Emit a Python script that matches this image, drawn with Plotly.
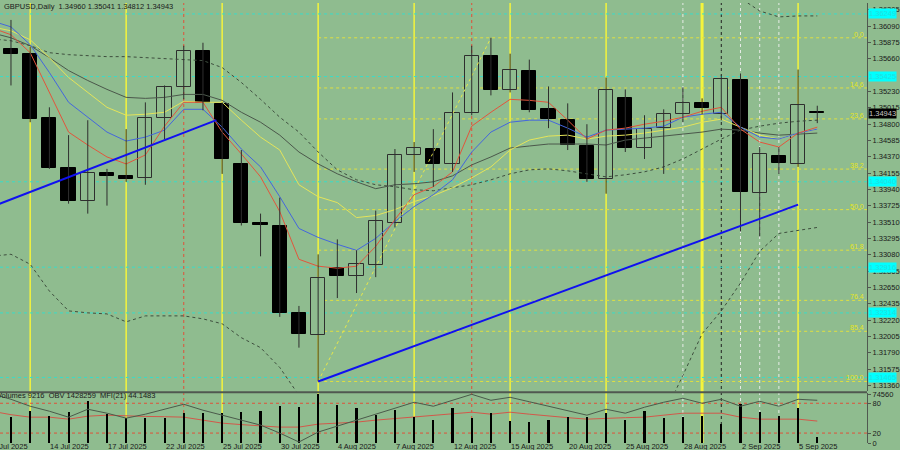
import plotly.graph_objects as go

BG = "#8FBC8F"

# ---------------- data ----------------
bar_dates = ["10 Jul 2025", "11 Jul 2025", "14 Jul 2025", "15 Jul 2025", "16 Jul 2025", "17 Jul 2025",
             "18 Jul 2025", "21 Jul 2025", "22 Jul 2025", "23 Jul 2025", "24 Jul 2025", "25 Jul 2025",
             "28 Jul 2025", "29 Jul 2025", "30 Jul 2025", "31 Jul 2025", "1 Aug 2025", "4 Aug 2025",
             "5 Aug 2025", "6 Aug 2025", "7 Aug 2025", "8 Aug 2025", "11 Aug 2025", "12 Aug 2025",
             "13 Aug 2025", "14 Aug 2025", "15 Aug 2025", "18 Aug 2025", "19 Aug 2025", "20 Aug 2025",
             "21 Aug 2025", "22 Aug 2025", "25 Aug 2025", "26 Aug 2025", "27 Aug 2025", "28 Aug 2025",
             "29 Aug 2025", "1 Sep 2025", "2 Sep 2025", "3 Sep 2025", "4 Sep 2025", "5 Sep 2025",
             "8 Sep 2025"]
indicator_dates = ["9 Jul 2025"] + bar_dates

opens = [1.35791, 1.35726, 1.34876, 1.34223, 1.33791, 1.34157, 1.34118, 1.34092, 1.34876, 1.35282,
         1.35765, 1.35059, 1.34275, 1.33504, 1.33452, 1.32314, 1.32027, 1.32902, 1.32798, 1.32942,
         1.33504, 1.34393, 1.34471, 1.34275, 1.34942, 1.35700, 1.35242, 1.35504, 1.34994, 1.34850,
         1.34510, 1.34079, 1.35138, 1.34484, 1.34746, 1.34929, 1.35072, 1.34929, 1.35386, 1.33896,
         1.34380, 1.34275, 1.34960]
highs = [1.36170, 1.35818, 1.35020, 1.34654, 1.34850, 1.34210, 1.34733, 1.35085, 1.35308, 1.35831,
         1.35870, 1.35085, 1.34458, 1.33621, 1.33831, 1.32406, 1.33085, 1.33282, 1.33138, 1.33661,
         1.34471, 1.34563, 1.34733, 1.35216, 1.35831, 1.35935, 1.35726, 1.35648, 1.35295, 1.35072,
         1.34798, 1.35412, 1.35255, 1.34916, 1.34994, 1.35282, 1.35138, 1.35438, 1.35465, 1.34497,
         1.34497, 1.35517, 1.35041]
lows = [1.35308, 1.34824, 1.34210, 1.33752, 1.33621, 1.33726, 1.34040, 1.34001, 1.34602, 1.35125,
        1.34981, 1.34144, 1.33465, 1.33059, 1.32262, 1.31857, 1.31412, 1.32510, 1.32576, 1.32785,
        1.33439, 1.34170, 1.33974, 1.34170, 1.34916, 1.35177, 1.35216, 1.34955, 1.34746, 1.34458,
        1.34040, 1.33883, 1.34432, 1.34340, 1.34144, 1.34824, 1.34929, 1.34850, 1.33386, 1.33321,
        1.34144, 1.34236, 1.34812]
closes = [1.35726, 1.34863, 1.34223, 1.33791, 1.34157, 1.34118, 1.34079, 1.34876, 1.35282, 1.35765,
          1.35072, 1.34340, 1.33504, 1.33465, 1.32314, 1.32040, 1.32772, 1.32798, 1.32955, 1.33530,
          1.34393, 1.34484, 1.34275, 1.34942, 1.35700, 1.35242, 1.35517, 1.34981, 1.34863, 1.34523,
          1.34079, 1.35242, 1.34484, 1.34733, 1.34929, 1.35072, 1.35007, 1.35399, 1.33909, 1.34406,
          1.34288, 1.35046, 1.34943]
volumes = [39870, 49210, 41530, 47620, 64480, 44610, 38350, 38470, 38390, 46050, 46180, 46090, 47700,
           49150, 56920, 55280, 74560, 58330, 53760, 43110, 50650, 40120, 35310, 53870, 38390, 46230,
           33750, 32290, 35420, 39940, 40060, 46170, 35380, 49090, 38460, 39980, 41570, 29160, 59880,
           47710, 41460, 53850, 9216]

# indicators (start one bar earlier, 9 Jul 2025)
ma_red = [1.36066, 1.35975, 1.35739, 1.35217, 1.34694, 1.34524, 1.34367, 1.34275, 1.34393, 1.34772,
          1.35086, 1.35086, 1.34694, 1.34406, 1.34105, 1.33648, 1.33020, 1.32929, 1.32903, 1.32929,
          1.33190, 1.33543, 1.33870, 1.33975, 1.34171, 1.34772, 1.34955, 1.35125, 1.35112, 1.35086,
          1.34851, 1.34602, 1.34720, 1.34746, 1.34798, 1.34837, 1.34890, 1.34968, 1.35020, 1.34733,
          1.34563, 1.34498, 1.34681, 1.34759]
ma_blue = [1.36158, 1.36079, 1.35844, 1.35478, 1.35086, 1.34890, 1.34694, 1.34576, 1.34628, 1.34720,
           1.34994, 1.34994, 1.34759, 1.34471, 1.34236, 1.33844, 1.33426, 1.33308, 1.33217, 1.33138,
           1.33295, 1.33517, 1.33713, 1.33870, 1.34066, 1.34432, 1.34694, 1.34824, 1.34851, 1.34851,
           1.34746, 1.34628, 1.34720, 1.34733, 1.34746, 1.34772, 1.34890, 1.34929, 1.34955, 1.34759,
           1.34628, 1.34602, 1.34681, 1.34733]
ma_yellow = [1.36079, 1.36027, 1.35909, 1.35674, 1.35413, 1.35217, 1.35020, 1.34916, 1.34929, 1.34955,
             1.35099, 1.35086, 1.35086, 1.34851, 1.34628, 1.34458, 1.34001, 1.33844, 1.33766, 1.33569,
             1.33596, 1.33674, 1.33779, 1.33857, 1.33962, 1.34092, 1.34236, 1.34458, 1.34589, 1.34641,
             1.34654, 1.34602, 1.34641, 1.34654, 1.34681, 1.34720, 1.34759, 1.34824, 1.34864, 1.34759,
             1.34654, 1.34602, 1.34681, 1.34733]
ma_gray = [1.36001, 1.35935, 1.35831, 1.35674, 1.35504, 1.35373, 1.35256, 1.35151, 1.35138, 1.35151,
           1.35190, 1.35190, 1.35112, 1.34955, 1.34824, 1.34654, 1.34432, 1.34275, 1.34145, 1.34040,
           1.33949, 1.34001, 1.34014, 1.34040, 1.34118, 1.34262, 1.34367, 1.34484, 1.34511, 1.34537,
           1.34537, 1.34537, 1.34524, 1.34589, 1.34615, 1.34641, 1.34667, 1.34694, 1.34733, 1.34720,
           1.34681, 1.34654, 1.34667, 1.34681]
ma_slow = [1.35922, 1.35896, 1.35831, 1.35739, 1.35713, 1.35700, 1.35687, 1.35687, 1.35674, 1.35661,
           1.35648, 1.35635, 1.35543, 1.35347, 1.35125, 1.34890, 1.34694, 1.34432, 1.34197, 1.34066,
           1.34001, 1.33975, 1.33935, 1.33922, 1.33962, 1.34001, 1.34066, 1.34145, 1.34197, 1.34210,
           1.34184, 1.34145, 1.34105, 1.34132, 1.34171, 1.34236, 1.34341, 1.34471, 1.34602, 1.34720,
           1.34772, 1.34811, 1.34837, 1.34851]
band_upper = [1.3878, 1.3871, 1.3871, 1.3888, 1.3909, 1.3909, 1.3907, 1.3918, 1.3907, 1.3905, 1.3902,
              1.3903, 1.3892, 1.3871, 1.3839, 1.3818, 1.3816, 1.3791, 1.3757, 1.3738, 1.3728, 1.3721,
              1.3707, 1.3698, 1.3702, 1.3712, 1.3728, 1.3746, 1.3757, 1.3762, 1.3759, 1.3753, 1.3747,
              1.3754, 1.3754, 1.3750, 1.3719, 1.3690, 1.3670, 1.36458, 1.36288, 1.36210, 1.36223, 1.36223]
band_lower = [1.33060, 1.33086, 1.32955, 1.32602, 1.32341, 1.32315, 1.32301, 1.32197, 1.32275, 1.32275,
              1.32275, 1.32236, 1.32171, 1.31988, 1.31857, 1.31596, 1.31230, 1.3095, 1.3082, 1.3075,
              1.3072, 1.3074, 1.3080, 1.3086, 1.3090, 1.3088, 1.3085, 1.3083, 1.3082, 1.3080, 1.3078,
              1.3076, 1.3074, 1.3072, 1.3080, 1.30968, 1.31491, 1.32040, 1.32341, 1.32707, 1.33125,
              1.33360, 1.33400, 1.33439]
obv = [1480259, 1436259, 1380259, 1340259, 1292259, 1356259, 1324259, 1284259, 1316259, 1356259,
       1396259, 1348259, 1308259, 1268259, 1228259, 1164259, 1092259, 1172259, 1220259, 1268259,
       1316259, 1364259, 1412259, 1380259, 1428259, 1476259, 1428259, 1452259, 1416259, 1380259,
       1344259, 1308259, 1356259, 1324259, 1372259, 1412259, 1444259, 1404259, 1436259, 1380259,
       1420259, 1380259, 1436259, 1428259]
mfi = [64, 57, 52, 52, 48, 54, 56, 54, 53.5, 53, 52, 46, 40, 37, 34, 32, 32, 38, 40, 42, 46, 49, 52,
       55, 58, 62, 58, 62, 58, 54, 51, 48, 50, 51, 52, 56, 60, 60, 60, 52, 48, 48, 48, 44.1483]

axis_dates = ["9 Jul 2025", "14 Jul 2025", "17 Jul 2025", "22 Jul 2025", "25 Jul 2025", "30 Jul 2025",
              "4 Aug 2025", "7 Aug 2025", "12 Aug 2025", "15 Aug 2025", "20 Aug 2025", "25 Aug 2025",
              "28 Aug 2025", "2 Sep 2025", "5 Sep 2025"]
price_ticks = [1.31360, 1.31575, 1.31790, 1.32005, 1.32220, 1.32435, 1.32650, 1.32865, 1.33080,
               1.33295, 1.33510, 1.33725, 1.33940, 1.34155, 1.34370, 1.34585, 1.34800, 1.35015,
               1.35230, 1.35660, 1.35875, 1.36090, 1.36305]

week_end_dates = ["11 Jul 2025", "18 Jul 2025", "25 Jul 2025", "1 Aug 2025", "8 Aug 2025",
                  "15 Aug 2025", "22 Aug 2025", "29 Aug 2025", "5 Sep 2025"]
red_mark_dates = ["23 Jul 2025", "13 Aug 2025"]
white_mark_dates = ["28 Aug 2025", "2 Sep 2025", "3 Sep 2025", "4 Sep 2025"]
black_mark_dates = ["1 Sep 2025"]

cyan_levels = [1.36249, 1.35425, 1.34040, 1.32916, 1.32314, 1.31465]
fib_ratios = [0.0, 14.6, 23.6, 38.2, 50.0, 61.8, 76.4, 85.4, 100.0]
fib_low, fib_low_date = 1.31412, "1 Aug 2025"
fib_high, fib_high_date = 1.35935, "14 Aug 2025"
trend1_pos = [-2.0, 10.7]
trend1_price = [1.33613, 1.34851]
trend2_dates = ["1 Aug 2025", "5 Sep 2025"]
trend2_price = [1.31412, 1.33739]

last_price = 1.34943
header = "GBPUSD,Daily  1.34960 1.35041 1.34812 1.34943"
sub_header = "Volumes 9216  OBV 1428259  MFI(21) 44.1483"

# ---------------- helpers ----------------
pos = {d: i - 1 for i, d in enumerate(indicator_dates)}
bar_x = [pos[d] for d in bar_dates]
ind_x = [pos[d] for d in indicator_dates]
X_RANGE = [-0.572, 44.59]
MAIN_DOM = [0.1174, 1.0]
SUB_DOM = [0.0, 0.1129]
DARK = "#2E2E2E"
FONT = "Liberation Sans, Arial, sans-serif"


def to_paper_x(v):
    return (v - X_RANGE[0]) / (X_RANGE[1] - X_RANGE[0])


fig = go.Figure()


def line(y, color, dash="solid", width=1):
    fig.add_trace(go.Scatter(x=ind_x, y=y, mode="lines", line=dict(color=color, width=width, dash=dash),
                             xaxis="x2", yaxis="y", hoverinfo="skip", showlegend=False))


line(band_upper, "#3E4E3E", "dot")
line(band_lower, "#3E4E3E", "dot")
line(ma_slow, "#3E4E3E", "dot")
line(ma_gray, "#4B574B")
line(ma_yellow, "#E4E45A")
line(ma_blue, "#4466DD")
line(ma_red, "#E2553C")

# fib diagonal
fig.add_trace(go.Scatter(x=[pos[fib_low_date], pos[fib_high_date]], y=[fib_low, fib_high], mode="lines",
                         line=dict(color="#E8E84A", width=1, dash="dot"), xaxis="x2", yaxis="y",
                         hoverinfo="skip", showlegend=False))

# candle wicks
wx, wy = [], []
for x, lo, hi in zip(bar_x, lows, highs):
    wx += [x, x, None]
    wy += [lo, hi, None]
fig.add_trace(go.Scatter(x=wx, y=wy, mode="lines", line=dict(color=DARK, width=1),
                         xaxis="x2", yaxis="y", hoverinfo="skip", showlegend=False))

# candle bodies
for bull in (True, False):
    xs, base, h = [], [], []
    for x, o, c in zip(bar_x, opens, closes):
        if (c >= o) == bull:
            xs.append(x)
            base.append(min(o, c))
            h.append(abs(c - o))
    fig.add_trace(go.Bar(x=xs, y=h, base=base, width=0.74,
                         marker=dict(color=BG if bull else "#000000",
                                     line=dict(color=DARK if bull else "#000000", width=1)),
                         xaxis="x2", yaxis="y", hoverinfo="skip", showlegend=False))

# trend lines
fig.add_trace(go.Scatter(x=trend1_pos, y=trend1_price, mode="lines", line=dict(color="#1010F0", width=2),
                         xaxis="x2", yaxis="y", hoverinfo="skip", showlegend=False))
fig.add_trace(go.Scatter(x=[pos[d] for d in trend2_dates], y=trend2_price, mode="lines",
                         line=dict(color="#1010F0", width=2), xaxis="x2", yaxis="y", hoverinfo="skip",
                         showlegend=False))

# lower panel
fig.add_trace(go.Bar(x=bar_x, y=volumes, width=0.11, marker=dict(color="#000000", line=dict(width=0)),
                     xaxis="x", yaxis="y3", hoverinfo="skip", showlegend=False))
fig.add_trace(go.Scatter(x=ind_x, y=obv, mode="lines", line=dict(color="#4B5A4B", width=1),
                         xaxis="x", yaxis="y4", hoverinfo="skip", showlegend=False))
fig.add_trace(go.Scatter(x=ind_x, y=mfi, mode="lines", line=dict(color="#D2584A", width=1),
                         xaxis="x", yaxis="y2", hoverinfo="skip", showlegend=False))

shapes = []


def vline(d, color, width, dash):
    shapes.append(dict(type="line", xref="x", yref="paper", x0=pos[d], x1=pos[d], y0=0, y1=1,
                       line=dict(color=color, width=width, dash=dash), layer="below"))


for d in week_end_dates:
    vline(d, "#F4F43C", 3 if d == "29 Aug 2025" else 1.5, "solid")
for d in red_mark_dates:
    vline(d, "#E0503A", 1, "dot")
for d in white_mark_dates:
    vline(d, "#E6ECE6", 1, "dot")
for d in black_mark_dates:
    vline(d, "#202020", 1, "dot")

for lv in cyan_levels:
    shapes.append(dict(type="line", xref="paper", yref="y", x0=0, x1=1, y0=lv, y1=lv,
                       line=dict(color="#3ADCC8", width=1, dash="dot"), layer="below"))

fib_levels = [fib_high - r / 100.0 * (fib_high - fib_low) for r in fib_ratios]
for lv in fib_levels:
    shapes.append(dict(type="line", xref="x", yref="y", x0=pos[fib_low_date], x1=60, y0=lv, y1=lv,
                       line=dict(color="#E0E040", width=1, dash="dot"), layer="below"))

for lv in (20, 80):
    shapes.append(dict(type="line", xref="paper", yref="y2", x0=0, x1=1, y0=lv, y1=lv,
                       line=dict(color="#E0503A", width=1, dash="dot"), layer="below"))

shapes.append(dict(type="line", xref="paper", yref="paper", x0=0, x1=1, y0=0.1151, y1=0.1151,
                   line=dict(color="#505850", width=2)))

annotations = []
annotations.append(dict(text=header, xref="paper", yref="paper", x=2 / 869, y=1.0, xanchor="left",
                        yanchor="top", showarrow=False, yshift=3,
                        font=dict(family=FONT, size=7.5, color="#1A1A1A")))
annotations.append(dict(text=sub_header, xref="paper", yref="paper", x=-5 / 869, y=(443 - 395.5) / 443,
                        xanchor="left", yanchor="middle", showarrow=False,
                        font=dict(family=FONT, size=7.5, color="#1A1A1A")))
for d in axis_dates:
    annotations.append(dict(text=d, xref="paper", yref="paper", x=to_paper_x(pos[d] - 0.05), y=0,
                            xanchor="left", yanchor="top", showarrow=False, yshift=3,
                            font=dict(family=FONT, size=7.5, color="#1A1A1A")))
for r, lv in zip(fib_ratios, fib_levels):
    annotations.append(dict(text=f"{r:.1f}", xref="paper", yref="y", x=867 / 869, y=lv, xanchor="right",
                            yanchor="bottom", showarrow=False, borderpad=0, yshift=-1,
                            font=dict(family=FONT, size=7, color="#E6E620")))
for lv in cyan_levels:
    annotations.append(dict(text=f"{lv:.5f}", xref="paper", yref="y", x=870 / 869, y=lv, xanchor="left",
                            yanchor="middle", showarrow=False, bgcolor="#00FFFF", borderpad=0,
                            font=dict(family=FONT, size=7.5, color="#22DDDD")))
annotations.append(dict(text=f"{last_price:.5f}", xref="paper", yref="y", x=870 / 869, y=last_price,
                        xanchor="left", yanchor="middle", showarrow=False, bgcolor="#000000", borderpad=0,
                        font=dict(family=FONT, size=7.5, color="#C8C8C8")))

tickfont = dict(family=FONT, size=7.5, color="#1A1A1A")
fig.update_layout(
    width=900, height=450,
    margin=dict(l=0, r=31, t=0, b=7),
    paper_bgcolor=BG, plot_bgcolor=BG,
    barmode="overlay", bargap=0,
    showlegend=False,
    xaxis=dict(domain=[0, 1], range=X_RANGE, anchor="y2", showgrid=False, zeroline=False,
               showticklabels=False, ticks="", showline=False),
    xaxis2=dict(domain=[0, 1], range=X_RANGE, matches="x", anchor="y", showgrid=False, zeroline=False,
                showticklabels=False, ticks="", showline=False),
    yaxis=dict(domain=MAIN_DOM, range=[1.31282, 1.36393], side="right", anchor="x2", showgrid=False,
               zeroline=False, tickvals=price_ticks, ticktext=[f"{v:.5f}" for v in price_ticks],
               ticks="outside", ticklen=3, tickcolor="#505850", showline=True, linecolor="#505850",
               linewidth=1, tickfont=tickfont),
    yaxis2=dict(domain=SUB_DOM, range=[0, 100], side="right", anchor="x", showgrid=False, zeroline=False,
                tickvals=[0, 20, 80], ticktext=["0", "20", "80"], ticks="outside", ticklen=3,
                tickcolor="#505850", showline=True, linecolor="#505850", linewidth=1, tickfont=tickfont),
    yaxis3=dict(overlaying="y2", range=[0, 76866], side="right", anchor="x", showgrid=False,
                zeroline=False, tickvals=[74560], ticktext=["74560"], ticks="outside", ticklen=3,
                tickcolor="#505850", showline=False, tickfont=tickfont),
    yaxis4=dict(overlaying="y2", range=[1084259, 1484259], visible=False),
    shapes=shapes,
    annotations=annotations,
)

fig.write_html("out.html", config={"displayModeBar": False},
               post_script="document.body.style.margin='0';document.body.style.overflow='hidden';")
